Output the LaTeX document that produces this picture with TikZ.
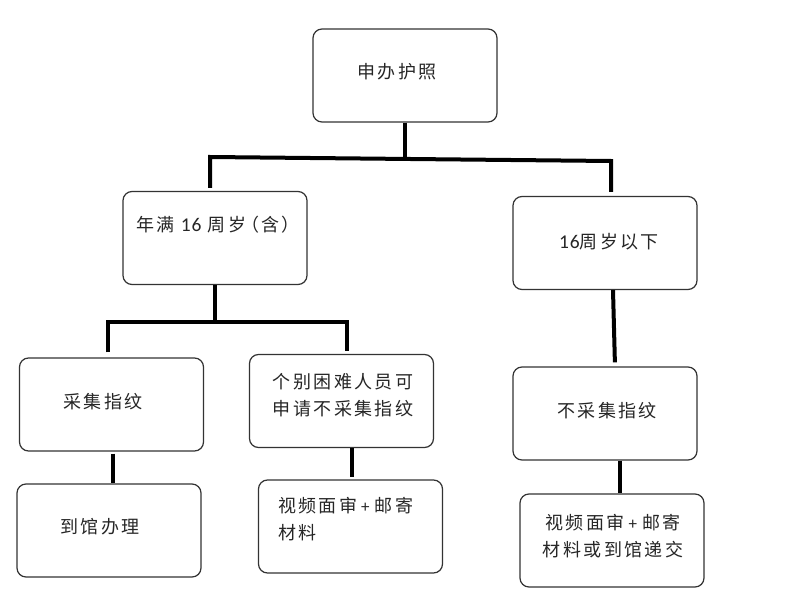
\documentclass[tikz,border=0pt]{standalone}
\usepackage{fontspec}
\newfontfamily\cjk[LetterSpace=13]{Noto Sans CJK SC}
\newfontfamily\latf[LetterSpace=4]{Carlito}
\newcommand{\dig}[1]{{\latf\fontsize{19.5}{27}\selectfont #1}}
\newcommand{\pls}{\hspace{4pt}{\latf\fontsize{17}{27}\selectfont +}\hspace{5pt}}
\begin{document}
\begin{tikzpicture}[x=1pt,y=-1pt,
  box/.style={draw=black!80, line width=1.2pt, rounded corners=9pt, minimum width=184pt, minimum height=93pt, inner sep=0pt, fill=white},
  conn/.style={line width=4pt, draw=black},
  lbl/.style={font=\cjk\fontsize{18}{27}\selectfont, text=black!85, inner sep=0pt, align=center}]
\useasboundingbox (0,0) rectangle (811,599);
\fill[white] (0,0) rectangle (811,599);
% boxes
\node[box] (top) at (405,75.5) {};
\node[box] (l1) at (215,238) {};
\node[box] (r1) at (605,243) {};
\node[box] (cj) at (111.5,404.5) {};
\node[box] (gb) at (341.5,401) {};
\node[box] (dg) at (109,530.5) {};
\node[box] (sp1) at (350.5,526.5) {};
\node[box] (bcj) at (605,413.5) {};
\node[box] (sp2) at (612,540.5) {};
% texts
\node[lbl] (t0) at (397,72) {申办护照};
\node[lbl] (t1) at (218,225) {年满 \dig{16} 周岁\kern-5pt（含）};
\node[lbl] (t2) at (609,242) {\dig{16}周岁以下};
\node[lbl] (t3) at (103,402) {采集指纹};
\node[lbl] (t4) at (343,395.5) {个别困难人员可\\申请不采集指纹};
\node[lbl, align=left, anchor=west] (t5) at (278,519.5) {视频面审\pls 邮寄\\材料};
\node[lbl] (t6) at (100,527) {到馆办理};
\node[lbl] (t7) at (607,411) {不采集指纹};
\node[lbl] (t8) at (613,536.5) {视频面审\pls 邮寄\\材料或到馆递交};
% connectors
\coordinate (b1l) at (210,157);
\coordinate (b1r) at (611,161);
\coordinate (b2l) at (108,322);
\coordinate (b2r) at (347,322);
\draw[conn] (top.south) -- (top.south |- 0,159);
\draw[conn, shorten <=3pt, shorten >=4pt] (b1l |- l1.north) -- (b1l) -- (b1r) -- (b1r |- r1.north);
\draw[conn] (l1.south) -- (l1.south |- b2l);
\draw[conn, shorten <=5pt, shorten >=3pt] (b2l |- cj.north) -- (b2l) -- (b2r) -- (b2r |- gb.north);
\draw[conn, shorten <=2pt] ([xshift=1.5pt]cj.south) -- ([xshift=1.5pt]cj.south |- dg.north);
\draw[conn, shorten >=2pt] ([xshift=10.5pt]gb.south) -- ([xshift=10.5pt]gb.south |- sp1.north);
\draw[conn, shorten >=4pt] ([xshift=8pt]r1.south) -- ([xshift=10pt]bcj.north);
\draw[conn] ([xshift=15pt]bcj.south) -- ([xshift=15pt]bcj.south |- sp2.north);
\end{tikzpicture}
\end{document}
